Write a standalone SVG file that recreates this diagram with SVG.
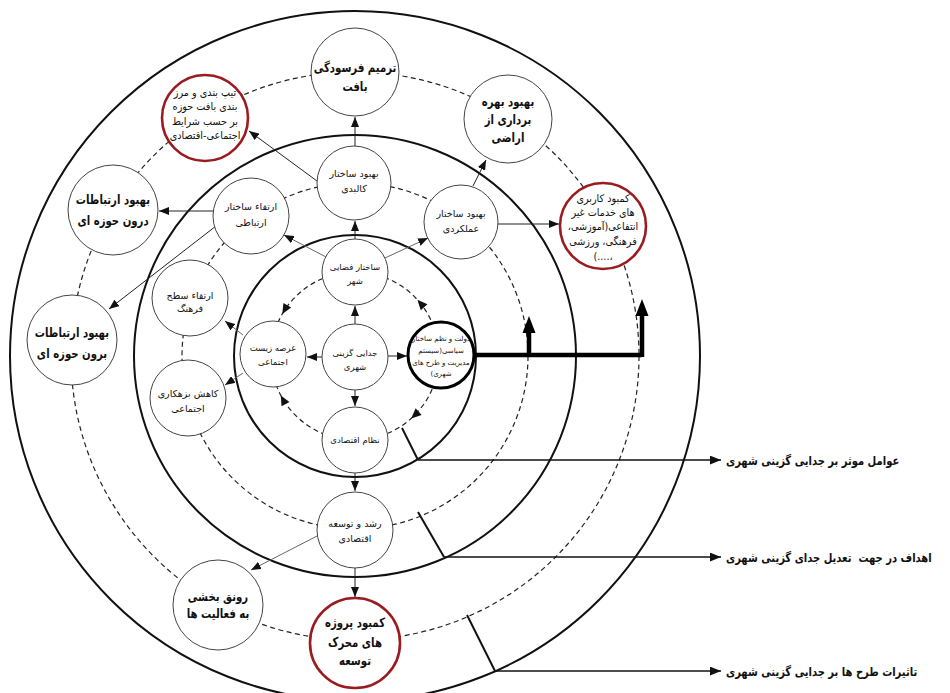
<svg xmlns="http://www.w3.org/2000/svg" width="950" height="693" viewBox="0 0 950 693">
<style>
  .ring{fill:none;stroke:#111;stroke-width:2}
  .dring{fill:none;stroke:#222;stroke-width:1.2;stroke-dasharray:5 3.5}
  .node{fill:#fff;stroke:#444;stroke-width:1}
  .red{fill:#fff;stroke:#9b1c20;stroke-width:2.6}
  .thick{fill:#fff;stroke:#000;stroke-width:3}
  .con{fill:none;stroke:#222;stroke-width:1;marker-end:url(#ah)}
  .conl{fill:none;stroke:#666;stroke-width:1;marker-end:url(#ah)}
  .tick{fill:none;stroke:#111;stroke-width:2}
  .lead{fill:none;stroke:#111;stroke-width:1.6;marker-end:url(#ahl)}
  text{font-family:"DejaVu Sans",sans-serif;fill:#111;direction:rtl;text-anchor:middle}
  .b13{font-size:13px;font-weight:bold}
  .n10{font-size:10.5px}
  .n9{font-size:9.5px}
  .n8{font-size:8.5px}
  .n7{font-size:7px}
  .lab{font-size:12.5px;font-weight:bold;direction:ltr;text-anchor:start}
</style>
<defs>
  <marker id="ah" viewBox="0 0 10 8" refX="10" refY="4" markerWidth="10" markerHeight="8" markerUnits="userSpaceOnUse" orient="auto">
    <path d="M0,0 L10,4 L0,8 z" fill="#111"/>
  </marker>
  <marker id="ahl" viewBox="0 0 10 8" refX="10" refY="4" markerWidth="11" markerHeight="9" markerUnits="userSpaceOnUse" orient="auto">
    <path d="M0,0 L10,4 L0,8 z" fill="#111"/>
  </marker>
  <path id="tri" d="M0,0 L-10,-4.5 L-10,4.5 z" fill="#111"/>
</defs>
<rect width="950" height="693" fill="#fff"/>

<g id="rings">
  <circle class="ring" cx="355" cy="356" r="345"/>
  <circle class="dring" cx="355" cy="356" r="284"/>
  <circle class="ring" cx="355" cy="356" r="221"/>
  <circle class="dring" cx="355" cy="356" r="173"/>
  <circle class="ring" cx="355" cy="356" r="121"/>
  <circle class="dring" cx="355" cy="356" r="84"/>
</g>

<g id="connectors">
  <use href="#tri" transform="translate(417.4,299.8) rotate(-132)"/>
  <use href="#tri" transform="translate(282.3,314) rotate(120)"/>
  <use href="#tri" transform="translate(280.8,395.4) rotate(-118)"/>
  <use href="#tri" transform="translate(411.2,418.4) rotate(138)"/>
  <line class="con" x1="355" y1="324" x2="355" y2="306"/>
  <line class="con" x1="322" y1="357" x2="307" y2="357"/>
  <line class="con" x1="388" y1="356" x2="407" y2="356"/>
  <line class="con" x1="355" y1="390" x2="355" y2="406"/>
  <line class="con" x1="355" y1="239" x2="355" y2="221"/>
  <line class="conl" x1="326" y1="257" x2="284" y2="235"/>
  <line class="conl" x1="385" y1="258" x2="428" y2="238"/>
  <line class="con" x1="355" y1="146" x2="355" y2="117"/>
  <line class="con" x1="317" y1="181" x2="249" y2="131"/>
  <line class="con" x1="473" y1="186" x2="486" y2="160"/>
  <line class="con" x1="498" y1="224" x2="559" y2="224"/>
  <line class="con" x1="213" y1="211" x2="159" y2="211"/>
  <line class="con" x1="216" y1="226" x2="109" y2="309"/>
  <line class="conl" x1="243" y1="335" x2="225" y2="321"/>
  <line class="conl" x1="243" y1="373" x2="225" y2="385"/>
  <line class="con" x1="355" y1="473" x2="355" y2="491"/>
  <line class="con" x1="355" y1="568" x2="355" y2="597"/>
  <line class="conl" x1="319" y1="535" x2="251" y2="570"/>
  <path d="M474,355 L642,355" fill="none" stroke="#000" stroke-width="4.5"/>
  <path d="M529,357 L529,331" fill="none" stroke="#000" stroke-width="4.5"/>
  <path d="M642,357 L642,314" fill="none" stroke="#000" stroke-width="4.5"/>
  <path d="M529,316 L522.5,333 L535.5,333 z" fill="#000"/>
  <path d="M642,299 L635.5,316 L648.5,316 z" fill="#000"/>
  <path class="tick" d="M402,428 L418,460"/>
  <path class="lead" d="M418,460 L721,460"/>
  <path class="tick" d="M418,512 L444,557"/>
  <path class="lead" d="M444,557 L721,557"/>
  <path class="tick" d="M467,615 L495,671"/>
  <path class="lead" d="M495,671 L721,671"/>
</g>

<g id="n-center"><circle class="node" cx="355" cy="357" r="33"/>
  <text class="n8"><tspan x="355" y="356">جدایی گزینی</tspan><tspan x="355" y="370">شهری</tspan></text></g>
<g id="n-fazayi"><circle class="node" cx="355" cy="272" r="33"/>
  <text class="n8"><tspan x="355" y="270">ساختار فضایی</tspan><tspan x="355" y="284">شهر</tspan></text></g>
<g id="n-arse"><circle class="node" cx="273" cy="354" r="33"/>
  <text class="n8"><tspan x="273" y="351">عرصه زیست</tspan><tspan x="273" y="365">اجتماعی</tspan></text></g>
<g id="n-nezam"><circle class="node" cx="355" cy="440" r="33"/>
  <text class="n8"><tspan x="355" y="443">نظام اقتصادی</tspan></text></g>
<g id="n-dolat"><circle class="thick" cx="441" cy="355" r="33"/>
  <text class="n7"><tspan x="441" y="341">دولت و نظم ساختار</tspan><tspan x="441" y="353">سیاسی(سیستم</tspan><tspan x="441" y="365">مدیریت و طرح های</tspan><tspan x="441" y="376">شهری)</tspan></text></g>

<g id="n-kalbadi"><circle class="node" cx="354" cy="183" r="37"/>
  <text class="n9"><tspan x="354" y="177">بهبود ساختار</tspan><tspan x="354" y="192">کالبدی</tspan></text></g>
<g id="n-ertebati"><circle class="node" cx="251" cy="216" r="38"/>
  <text class="n9"><tspan x="251" y="210">ارتقاء ساختار</tspan><tspan x="251" y="226">ارتباطی</tspan></text></g>
<g id="n-amalkardi"><circle class="node" cx="461" cy="222" r="37"/>
  <text class="n9"><tspan x="461" y="217">بهبود ساختار</tspan><tspan x="461" y="232">عملکردی</tspan></text></g>
<g id="n-farhang"><circle class="node" cx="190" cy="298" r="38"/>
  <text class="n9"><tspan x="190" y="299">ارتقاء سطح</tspan><tspan x="190" y="312">فرهنگ</tspan></text></g>
<g id="n-bezeh"><circle class="node" cx="188" cy="398" r="38"/>
  <text class="n9"><tspan x="188" y="397">کاهش بزهکاری</tspan><tspan x="188" y="412">اجتماعی</tspan></text></g>
<g id="n-roshd"><circle class="node" cx="355" cy="530" r="38"/>
  <text class="n9"><tspan x="355" y="527">رشد و توسعه</tspan><tspan x="355" y="542">اقتصادی</tspan></text></g>

<g id="n-tarmim"><circle class="node" cx="355" cy="72" r="44"/>
  <text class="b13" transform="matrix(0.78,0,0,1,78.1,0)"><tspan x="355" y="72">ترمیم فرسودگی</tspan><tspan x="355" y="91">بافت</tspan></text></g>
<g id="n-tip"><circle class="red" cx="205" cy="118" r="43"/>
  <text class="n10" transform="matrix(0.92,0,0,1,16.4,0)"><tspan x="205" y="96">تیپ بندی و مرز</tspan><tspan x="205" y="110">بندی بافت حوزه</tspan><tspan x="205" y="125">بر حسب شرایط</tspan><tspan x="205" y="139">اجتماعی-اقتصادی</tspan></text></g>
<g id="n-bahre"><circle class="node" cx="508" cy="119" r="44"/>
  <text class="b13" transform="matrix(0.78,0,0,1,111.76,0)"><tspan x="508" y="106">بهبود بهره</tspan><tspan x="508" y="124">برداری از</tspan><tspan x="508" y="142">اراضی</tspan></text></g>
<g id="n-kamkarbari"><circle class="red" cx="603" cy="226" r="43"/>
  <text class="n10" transform="matrix(0.92,0,0,1,48.24,0)"><tspan x="603" y="202">کمبود کاربری</tspan><tspan x="603" y="216">های خدمات غیر</tspan><tspan x="603" y="230">انتفاعی(آموزشی،</tspan><tspan x="603" y="245">فرهنگی، ورزشی</tspan><tspan x="603" y="260">،....)</tspan></text></g>
<g id="n-darun"><circle class="node" cx="113" cy="210" r="45"/>
  <text class="b13" transform="matrix(0.78,0,0,1,24.86,0)"><tspan x="113" y="204">بهبود ارتباطات</tspan><tspan x="113" y="225">درون حوزه ای</tspan></text></g>
<g id="n-borun"><circle class="node" cx="72" cy="340" r="45"/>
  <text class="b13" transform="matrix(0.78,0,0,1,15.84,0)"><tspan x="72" y="337">بهبود ارتباطات</tspan><tspan x="72" y="358">برون حوزه ای</tspan></text></g>
<g id="n-ronagh"><circle class="node" cx="218" cy="605" r="45"/>
  <text class="b13" transform="matrix(0.78,0,0,1,47.96,0)"><tspan x="218" y="601">رونق بخشی</tspan><tspan x="218" y="618">به فعالیت ها</tspan></text></g>
<g id="n-kamproje"><circle class="red" cx="355" cy="643" r="45"/>
  <text class="b13" transform="matrix(0.78,0,0,1,78.1,0)"><tspan x="355" y="627">کمبود پروژه</tspan><tspan x="355" y="647">های محرک</tspan><tspan x="355" y="665">توسعه</tspan></text></g>

<g id="labels">
  <text class="lab" x="726" y="465" transform="matrix(0.8,0,0,1,145.2,0)">عوامل موثر بر جدایی گزینی شهری</text>
  <text class="lab" x="726" y="562" xml:space="preserve" transform="matrix(0.8,0,0,1,145.2,0)">اهداف در جهت  تعدیل جدای گزینی شهری</text>
  <text class="lab" x="726" y="676" transform="matrix(0.8,0,0,1,145.2,0)">تاثیرات طرح ها بر جدایی گزینی شهری</text>
</g>
</svg>
